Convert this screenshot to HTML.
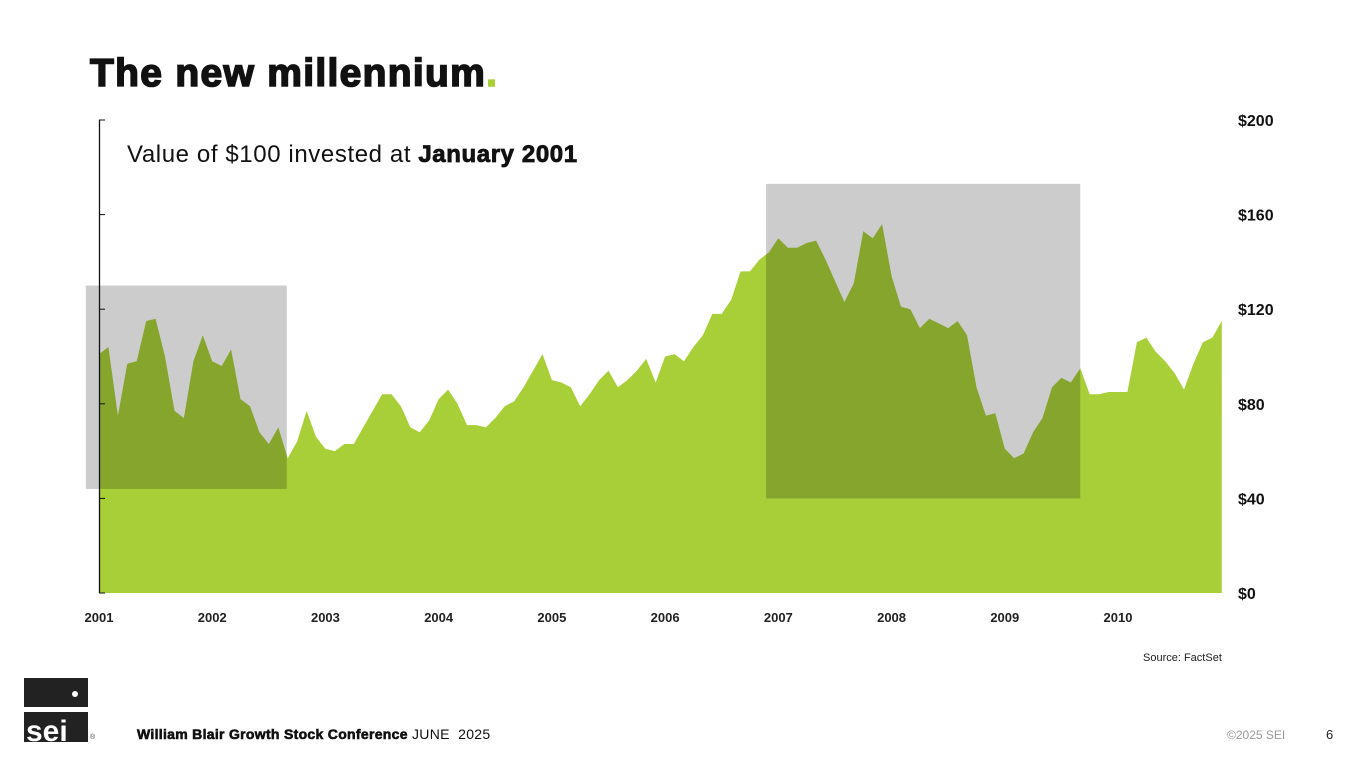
<!DOCTYPE html>
<html><head><meta charset="utf-8"><style>
body{margin:0;width:1365px;height:768px;background:#fff;font-family:"Liberation Sans",sans-serif;overflow:hidden;position:relative}
.t{position:absolute;white-space:nowrap}
</style></head><body>
<div class="t" style="left:90px;top:52px;font-size:39px;font-weight:900;color:#111;letter-spacing:1.3px;-webkit-text-stroke:1.6px #111">The new millennium<span style="color:#a8cf38;-webkit-text-stroke:1.6px #a8cf38">.</span></div>
<svg id="c" width="1365" height="768" style="position:absolute;left:0;top:0"></svg>
<div class="t" style="left:127px;top:141px;font-size:24px;letter-spacing:0.6px;color:#111">Value of $100 invested at <b style="-webkit-text-stroke:0.8px #111">January 2001</b></div>
<div class="t" style="left:1143px;top:652px;font-size:11px;color:#222">Source: FactSet</div>
<div class="t" style="left:24px;top:678px;width:64px;height:64px">
 <div style="position:absolute;left:0;top:0;width:64px;height:29px;background:#222"></div>
 <div style="position:absolute;left:48px;top:13px;width:6px;height:6px;border-radius:3px;background:#fff"></div>
 <div style="position:absolute;left:0;top:34px;width:64px;height:30px;background:#222;overflow:hidden"><span style="position:absolute;left:2px;top:2px;color:#fff;font-weight:900;font-size:30px;line-height:36px">sei</span></div>
 <span style="position:absolute;left:66px;top:56px;font-size:7px;color:#444">®</span>
</div>
<div class="t" style="left:137px;top:726px;font-size:14px;letter-spacing:0.3px;color:#111"><b style="-webkit-text-stroke:0.6px #111">William Blair Growth Stock Conference</b> JUNE&nbsp; 2025</div>
<div class="t" style="left:1227px;top:728px;font-size:12px;color:#999">©2025 SEI</div>
<div class="t" style="left:1326px;top:727px;font-size:13px;color:#222">6</div>
<script>
const values=[101,104,75,97,98,115,116,100,77,74,98,109,98,96,103,82,79,68,63,70,57,64,77,66,61,60,63,63,70,77,84,84,79,70,68,73,82,86,80,71,71,70,74,79,81,87,94,101,90,89,87,79,84,90,94,87,90,94,99,89,100,101,98,104,109,118,118,124,136,136,141,144,150,146,146,148,149,141,132,123,131,153,150,156,134,121,120,112,116,114,112,115,109,87,75,76,61,57,59,68,74,87,91,89,95,84,84,85,85,85,106,108,102,98,93,86,97,106,108,115];
const yearLabels=["2001","2002","2003","2004","2005","2006","2007","2008","2009","2010"];
const yTicks=[0,40,80,120,160,200];
const yTickLabels=["$0","$40","$80","$120","$160","$200"];
const recessions=[[-1.4,19.9,130,44],[70.7,104,173,40]];
const NS="http://www.w3.org/2000/svg",svg=document.getElementById('c');
const X=i=>99+i*(1019/108), Y=v=>593-v*(473/200);
function mk(t,a){const e=document.createElementNS(NS,t);for(const k in a)e.setAttribute(k,a[k]);svg.appendChild(e);return e;}
let d="M"+X(0)+","+Y(0);values.forEach((v,i)=>d+="L"+X(i).toFixed(1)+","+Y(v).toFixed(1));d+="L"+X(values.length-1)+","+Y(0)+"Z";
const area=mk('path',{d:d,fill:'#a8cf38'});


recessions.forEach(r=>{const e=mk('rect',{x:X(r[0]),y:Y(r[2]),width:X(r[1])-X(r[0]),height:Y(r[3])-Y(r[2]),fill:'#cccccc',style:'mix-blend-mode:multiply'});

});
const ax=mk('line',{x1:99.5,x2:99.5,y1:Y(200),y2:Y(0),stroke:'#111','stroke-width':1.3});


yTicks.forEach((v,i)=>{const tk=mk('line',{x1:99,x2:105,y1:Y(v),y2:Y(v),stroke:'#111'});


const t=mk('text',{x:1238,y:Y(v)+6,'font-size':16,'font-weight':'bold',fill:'#111','font-family':'Liberation Sans'});t.textContent=yTickLabels[i];

});
yearLabels.forEach((l,i)=>{const t=mk('text',{x:X(i*12),y:622,'font-size':13,'font-weight':'bold','text-anchor':'middle',fill:'#222','font-family':'Liberation Sans'});t.textContent=l;

});
</script>
</body></html>
